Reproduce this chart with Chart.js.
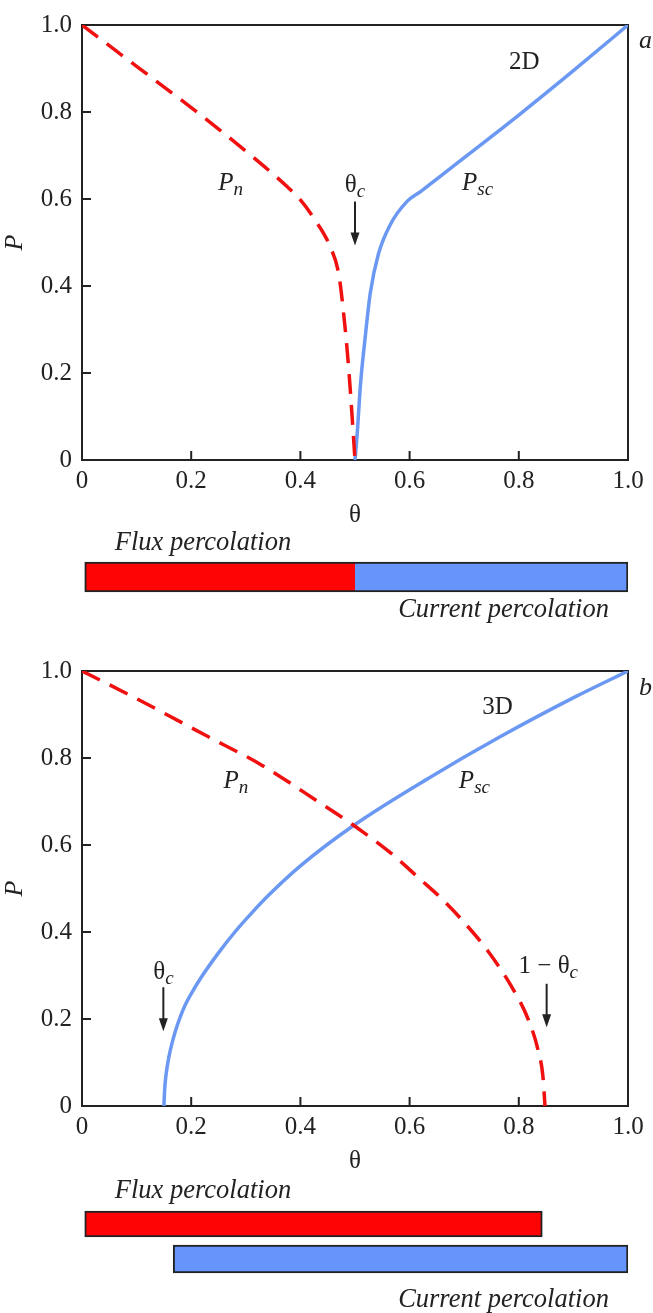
<!DOCTYPE html>
<html><head><meta charset="utf-8">
<script src="https://cdn.jsdelivr.net/npm/chart.js@4.4.0/dist/chart.umd.min.js"></script>
<style>
html,body{margin:0;padding:0;background:#fff;}
body{width:653px;height:1313px;position:relative;overflow:hidden;}
canvas{position:absolute;left:0;}
</style></head><body>
<canvas id="ca" width="653" height="530" style="top:0px"></canvas>
<canvas id="cab" width="653" height="116" style="top:530px"></canvas>
<canvas id="cb" width="653" height="530" style="top:646px"></canvas>
<canvas id="cbb" width="653" height="137" style="top:1176px"></canvas>
<script>
// ---------- data ----------
// Panel a (2D)
const thetaPnA  = [0, 0.1, 0.2, 0.3, 0.376, 0.4, 0.424, 0.455, 0.47, 0.479, 0.488, 0.494, 0.5];
const pnA       = [1.0, 0.905, 0.81, 0.71, 0.628, 0.598, 0.557, 0.489, 0.429, 0.339, 0.218, 0.113, 0];
const thetaPscA = [0.5, 0.504, 0.51, 0.519, 0.528, 0.543, 0.565, 0.595, 0.62, 0.7, 0.8, 0.9, 1.0];
const pscA      = [0, 0.06, 0.173, 0.286, 0.384, 0.474, 0.542, 0.594, 0.617, 0.695, 0.793, 0.895, 1.0];
// Panel b (3D)
const thetaPnB  = [0, 0.093, 0.228, 0.33, 0.432, 0.5, 0.567, 0.616, 0.66, 0.7, 0.743, 0.786, 0.817, 0.835, 0.844, 0.848];
const pnB       = [1.0, 0.941, 0.851, 0.783, 0.70, 0.643, 0.58, 0.525, 0.475, 0.422, 0.357, 0.276, 0.2, 0.13, 0.07, 0];
const thetaPscB = [0.15, 0.1515, 0.153, 0.156, 0.16, 0.165, 0.171, 0.18, 0.189, 0.2, 0.219, 0.25, 0.28, 0.311, 0.343, 0.4, 0.5, 0.634, 0.769, 0.904, 1.0];
const pscB      = [0, 0.04, 0.062, 0.09, 0.118, 0.145, 0.172, 0.205, 0.232, 0.258, 0.297, 0.352, 0.4, 0.444, 0.486, 0.552, 0.647, 0.753, 0.851, 0.941, 1.0];
// ticks
const xTickValues = [0, 0.2, 0.4, 0.6, 0.8, 1.0];
const xTickLabels = ['0', '0.2', '0.4', '0.6', '0.8', '1.0'];
const yTickValues = [0, 0.2, 0.4, 0.6, 0.8, 1.0];
const yTickLabels = ['0', '0.2', '0.4', '0.6', '0.8', '1.0'];
// percolation ranges (bars)
const barCatsA = ['2D'];
const fluxRangeA = [0.005, 0.5];
const currentRangeA = [0.5, 1.0];
const barCatsB = ['Flux', 'Current'];
const fluxRangeB = [0.005, 0.843];
const currentRangeB = [0.167, 1.0];

// ---------- styles ----------
const SERIF = '"Liberation Serif", "Times New Roman", serif';
const INK = '#222';
const RED_LINE = '#f01010';
const BLUE_LINE = '#6a98f2';
const RED_BAR = '#fe0404';
const BLUE_BAR = '#6595fb';

const toXY = (xs, ys) => xs.map((v, i) => ({x: v, y: ys[i]}));

function drawParts(ctx, cx, baseline, parts, align) {
  let w = 0;
  parts.forEach(p => { ctx.font = p.font; w += ctx.measureText(p.t).width; });
  let x = align === 'left' ? cx : cx - w / 2;
  ctx.textAlign = 'left';
  ctx.textBaseline = 'alphabetic';
  parts.forEach(p => {
    ctx.font = p.font;
    ctx.fillText(p.t, x, baseline + (p.dy || 0));
    x += ctx.measureText(p.t).width;
  });
}
const MAIN = '25px ' + SERIF;
const IT = 'italic 25px ' + SERIF;
const SUB = 'italic 19px ' + SERIF;

const framePlugin = {
  id: 'frame',
  beforeDatasetsDraw(chart) {
    const {ctx, chartArea: a, scales: {x, y}} = chart;
    ctx.save();
    ctx.strokeStyle = INK;
    ctx.lineWidth = 2;
    ctx.strokeRect(a.left, a.top, a.right - a.left, a.bottom - a.top);
    ctx.beginPath();
    x.ticks.forEach(t => {
      const px = x.getPixelForValue(t.value);
      ctx.moveTo(px, a.bottom); ctx.lineTo(px, a.bottom - 9);
    });
    y.ticks.forEach(t => {
      const py = y.getPixelForValue(t.value);
      ctx.moveTo(a.left, py); ctx.lineTo(a.left + 9, py);
    });
    ctx.stroke();
    ctx.restore();
  }
};

function annotPlugin(items, arrows, corner) {
  return {
    id: 'annot',
    afterDatasetsDraw(chart) {
      const {ctx, chartArea: a, scales: {x, y}} = chart;
      ctx.save();
      ctx.fillStyle = INK;
      ctx.strokeStyle = INK;
      items.forEach(it => drawParts(ctx, x.getPixelForValue(it.x), y.getPixelForValue(it.y), it.parts, 'center'));
      arrows.forEach(ar => {
        const px = x.getPixelForValue(ar.x);
        const y0 = y.getPixelForValue(ar.from);
        const y1 = y.getPixelForValue(ar.to);
        ctx.lineWidth = 2;
        ctx.beginPath(); ctx.moveTo(px, y0); ctx.lineTo(px, y1 - 10); ctx.stroke();
        ctx.beginPath();
        ctx.moveTo(px - 4.5, y1 - 13); ctx.lineTo(px + 4.5, y1 - 13); ctx.lineTo(px, y1);
        ctx.closePath(); ctx.fill();
      });
      drawParts(ctx, a.right + 11, y.getPixelForValue(corner.y), [{t: corner.t, font: 'italic 26px ' + SERIF}], 'left');
      ctx.restore();
    }
  };
}

function mainChart(id, pn, psc, items, arrows, corner) {
  return new Chart(document.getElementById(id), {
    type: 'line',
    data: {
      datasets: [
        {label: 'Pn', data: pn, borderColor: RED_LINE, borderWidth: 3.5, borderDash: [20, 11],
         pointRadius: 0, fill: false, cubicInterpolationMode: 'monotone', borderCapStyle: 'butt'},
        {label: 'Psc', data: psc, borderColor: BLUE_LINE, borderWidth: 3.5,
         pointRadius: 0, fill: false, cubicInterpolationMode: 'monotone'}
      ]
    },
    options: {
      responsive: false, animation: false,
      layout: {padding: {left: 0, right: 25, top: 17, bottom: 0}},
      plugins: {legend: {display: false}, tooltip: {enabled: false}},
      scales: {
        x: {
          type: 'linear', min: 0, max: 1,
          afterBuildTicks: s => { s.ticks = xTickValues.map(v => ({value: v})); },
          afterFit: s => { s.height = 70; },
          grid: {display: false, drawTicks: false},
          border: {display: false},
          ticks: {padding: 6, color: INK, font: {family: SERIF, size: 25},
                  callback: (v, i) => xTickLabels[i], maxRotation: 0, autoSkip: false},
          title: {display: true, text: 'θ', color: INK, font: {family: SERIF, size: 25}, padding: 0}
        },
        y: {
          type: 'linear', min: 0, max: 1,
          afterBuildTicks: s => { s.ticks = yTickValues.map(v => ({value: v})); },
          afterFit: s => { s.width = 82; },
          grid: {display: false, drawTicks: false},
          border: {display: false},
          ticks: {padding: 10, color: INK, font: {family: SERIF, size: 25},
                  callback: (v, i) => yTickLabels[i], autoSkip: false},
          title: {display: true, text: 'P', color: INK, font: {family: SERIF, size: 26, style: 'italic'}, padding: 0}
        }
      }
    },
    plugins: [framePlugin, annotPlugin(items, arrows, corner)]
  });
}

mainChart('ca', toXY(thetaPnA, pnA), toXY(thetaPscA, pscA),
  [
    {x: 0.81, y: 0.898, parts: [{t: '2D', font: MAIN}]},
    {x: 0.272, y: 0.621, parts: [{t: 'P', font: IT}, {t: 'n', font: SUB, dy: 5}]},
    {x: 0.5, y: 0.617, parts: [{t: 'θ', font: MAIN}, {t: 'c', font: SUB, dy: 5}]},
    {x: 0.7245, y: 0.621, parts: [{t: 'P', font: IT}, {t: 'sc', font: SUB, dy: 5}]}
  ],
  [{x: 0.5, from: 0.594, to: 0.493}],
  {t: 'a', y: 0.948});

mainChart('cb', toXY(thetaPnB, pnB), toXY(thetaPscB, pscB),
  [
    {x: 0.761, y: 0.902, parts: [{t: '3D', font: MAIN}]},
    {x: 0.282, y: 0.73, parts: [{t: 'P', font: IT}, {t: 'n', font: SUB, dy: 5}]},
    {x: 0.7187, y: 0.73, parts: [{t: 'P', font: IT}, {t: 'sc', font: SUB, dy: 5}]},
    {x: 0.149, y: 0.293, parts: [{t: 'θ', font: MAIN}, {t: 'c', font: SUB, dy: 5}]},
    {x: 0.854, y: 0.306, parts: [{t: '1 − θ', font: MAIN}, {t: 'c', font: SUB, dy: 5}]}
  ],
  [{x: 0.149, from: 0.273, to: 0.172}, {x: 0.851, from: 0.281, to: 0.181}],
  {t: 'b', y: 0.944});

function barTextPlugin(fluxDy, currentDy) {
  return {
    id: 'bartext',
    afterDraw(chart) {
      const {ctx, chartArea: a, scales: {x}} = chart;
      ctx.save();
      ctx.fillStyle = INK;
      const f = 'italic 26.5px ' + SERIF;
      drawParts(ctx, x.getPixelForValue(0.06), a.top + fluxDy, [{t: 'Flux percolation', font: f}], 'left');
      drawParts(ctx, x.getPixelForValue(0.579), a.bottom + currentDy, [{t: 'Current percolation', font: f}], 'left');
      ctx.restore();
    }
  };
}

function barOptions(pad) {
  return {
    indexAxis: 'y', responsive: false, animation: false,
    layout: {padding: pad},
    plugins: {legend: {display: false}, tooltip: {enabled: false}},
    scales: {x: {type: 'linear', min: 0, max: 1, display: false}, y: {display: false}}
  };
}

new Chart(document.getElementById('cab'), {
  type: 'bar',
  data: {
    labels: barCatsA,
    datasets: [
      {label: 'Flux percolation', data: [fluxRangeA], backgroundColor: RED_BAR, borderColor: INK,
       borderWidth: 2, borderSkipped: 'right', barThickness: 30, grouped: false},
      {label: 'Current percolation', data: [currentRangeA], backgroundColor: BLUE_BAR, borderColor: INK,
       borderWidth: 2, borderSkipped: 'left', barThickness: 30, grouped: false}
    ]
  },
  options: barOptions({left: 82, right: 25, top: 27, bottom: 49}),
  plugins: [barTextPlugin(-7, 20)]
});

new Chart(document.getElementById('cbb'), {
  type: 'bar',
  data: {
    labels: barCatsB,
    datasets: [
      {label: 'Flux percolation', data: [fluxRangeB, null], backgroundColor: RED_BAR, borderColor: INK,
       borderWidth: 2, borderSkipped: false, barThickness: 26, grouped: false},
      {label: 'Current percolation', data: [null, currentRangeB], backgroundColor: BLUE_BAR, borderColor: INK,
       borderWidth: 2, borderSkipped: false, barThickness: 28, grouped: false}
    ]
  },
  options: barOptions({left: 82, right: 25, top: 30.5, bottom: 36.5}),
  plugins: [barTextPlugin(-8.5, 30)]
});
</script>
</body></html>
